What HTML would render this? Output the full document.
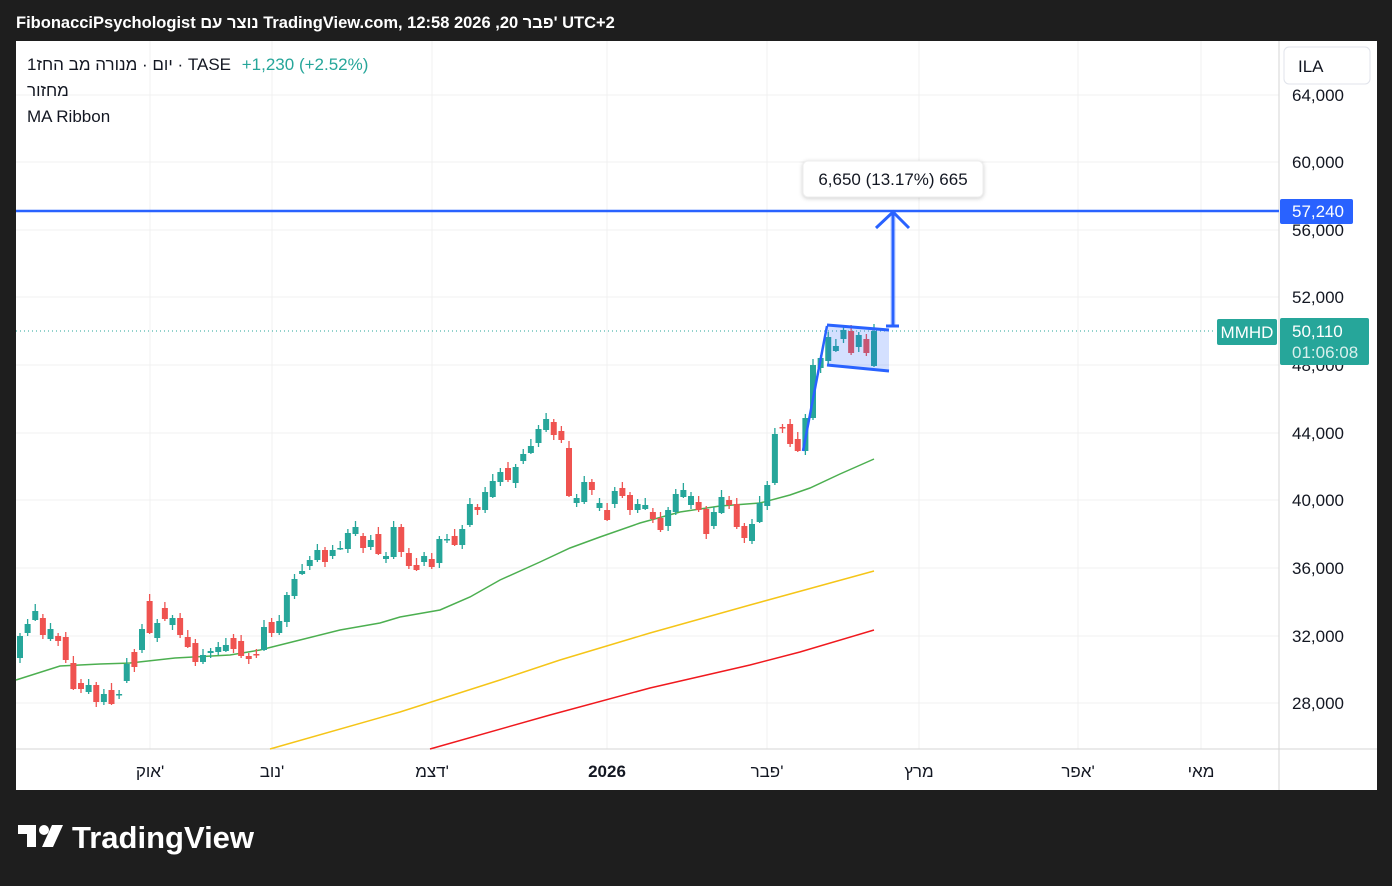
<!DOCTYPE html>
<html><head><meta charset="utf-8"><style>
body{margin:0;width:1392px;height:881px;background:#1e1e1e;overflow:hidden;font-family:"Liberation Sans","Noto Sans CJK SC",sans-serif}
svg text{font-family:"Liberation Sans","Noto Sans CJK SC",sans-serif}
</style></head><body>
<svg id="s" width="1392" height="881" xmlns="http://www.w3.org/2000/svg">
<rect width="1392" height="881" fill="#1e1e1e"/>
<text x="16" y="28" fill="#fff" font-size="16.5" font-weight="bold">FibonacciPsychologist נוצר עם TradingView.com, 12:58 2026 ,20 פבר' UTC+2</text>
<rect x="16" y="41" width="1361" height="749" fill="#fff"/>
<g stroke="#f0f0f0" stroke-width="1">
<line x1="16" x2="1279" y1="95" y2="95"/><line x1="16" x2="1279" y1="162" y2="162"/><line x1="16" x2="1279" y1="230" y2="230"/><line x1="16" x2="1279" y1="297" y2="297"/><line x1="16" x2="1279" y1="365" y2="365"/><line x1="16" x2="1279" y1="433" y2="433"/><line x1="16" x2="1279" y1="500" y2="500"/><line x1="16" x2="1279" y1="568" y2="568"/><line x1="16" x2="1279" y1="636" y2="636"/><line x1="16" x2="1279" y1="703" y2="703"/>
<line y1="41" y2="749" x1="150" x2="150"/><line y1="41" y2="749" x1="272" x2="272"/><line y1="41" y2="749" x1="432" x2="432"/><line y1="41" y2="749" x1="607" x2="607"/><line y1="41" y2="749" x1="767" x2="767"/><line y1="41" y2="749" x1="919" x2="919"/><line y1="41" y2="749" x1="1078" x2="1078"/><line y1="41" y2="749" x1="1201" x2="1201"/>
</g>
<line x1="1279" x2="1279" y1="41" y2="790" stroke="#d6d6d6"/>
<line x1="16" x2="1377" y1="749" y2="749" stroke="#d6d6d6"/>
<g font-size="17" fill="#131722">
<text x="1292" y="101">64,000</text><text x="1292" y="168">60,000</text><text x="1292" y="236">56,000</text><text x="1292" y="303">52,000</text><text x="1292" y="371">48,000</text><text x="1292" y="439">44,000</text><text x="1292" y="506">40,000</text><text x="1292" y="574">36,000</text><text x="1292" y="642">32,000</text><text x="1292" y="709">28,000</text>
<text x="150" y="777" text-anchor="middle">אוק'</text><text x="272" y="777" text-anchor="middle">נוב'</text><text x="432" y="777" text-anchor="middle">דצמ'</text><text x="607" y="777" text-anchor="middle" font-weight="bold">2026</text><text x="767" y="777" text-anchor="middle">פבר'</text><text x="919" y="777" text-anchor="middle">מרץ</text><text x="1078" y="777" text-anchor="middle">אפר'</text><text x="1201" y="777" text-anchor="middle">מאי</text>
</g>
<polyline fill="none" stroke="#4caf50" stroke-width="1.5" points="16,680 60,666 100,664 130,663 175,658 230,655 260,650 300,640 340,630 380,623 400,617 440,610 470,597 500,580 540,562 570,548 600,537 640,523 680,512 720,506 760,503 790,495 810,488 840,474 874,459"/>
<polyline fill="none" stroke="#f5c518" stroke-width="1.5" points="270,749 400,712 500,680 560,660 650,633 750,605 874,571"/>
<polyline fill="none" stroke="#f0191e" stroke-width="1.5" points="430,749 550,715 650,688 750,665 800,652 874,630"/>
<line x1="16" x2="1215" y1="331" y2="331" stroke="#26a69a" stroke-dasharray="1,3"/>
<g id="c"></g>
<polygon points="827,325 889,330 889,371 827,365" fill="rgba(41,98,255,0.2)"/>
<line x1="827" y1="325" x2="889" y2="330" stroke="#2962ff" stroke-width="3"/>
<line x1="827" y1="365" x2="889" y2="371" stroke="#2962ff" stroke-width="3"/>
<line x1="803" y1="451" x2="827" y2="326" stroke="#2962ff" stroke-width="2.5"/>
<line x1="16" x2="1279" y1="211" y2="211" stroke="#2962ff" stroke-width="2.5"/>
<rect x="890" y="212" width="6" height="113" fill="rgba(41,98,255,0.15)"/>
<line x1="893" x2="893" y1="213" y2="326" stroke="#2962ff" stroke-width="3"/>
<line x1="886" x2="899" y1="326" y2="326" stroke="#2962ff" stroke-width="3"/>
<polyline points="876,228 893,212 909,228" fill="none" stroke="#2962ff" stroke-width="3"/>
<rect x="803" y="161" width="180" height="36" rx="5" fill="#fff" stroke="#eee" style="filter:drop-shadow(0 1px 2px rgba(0,0,0,.2))"/>
<text x="893" y="185" text-anchor="middle" font-size="17" fill="#131722">6,650 (13.17%) 665</text>
<rect x="1280" y="199" width="73" height="25" rx="2" fill="#2962ff"/>
<text x="1292" y="217" font-size="17" fill="#fff">57,240</text>
<rect x="1217" y="319" width="60" height="26" rx="2" fill="#26a69a"/>
<text x="1247" y="338" font-size="17" fill="#fff" text-anchor="middle">MMHD</text>
<rect x="1280" y="318" width="89" height="47" rx="2" fill="#26a69a"/>
<text x="1292" y="337" font-size="17" fill="#fff">50,110</text>
<text x="1292" y="358" font-size="17" fill="#d9f0ed">01:06:08</text>
<rect x="1284" y="47" width="86" height="37" rx="5" fill="#fff" stroke="#e0e3eb"/>
<text x="1298" y="72" font-size="17" fill="#131722">ILA</text>
<text x="27" y="70" font-size="17" fill="#131722">1יום · מנורה מב החז · TASE <tspan fill="#26a69a" dx="6">+1,230 (+2.52%)</tspan></text>
<text x="27" y="96" font-size="17" fill="#131722">מחזור</text>
<text x="27" y="122" font-size="17" fill="#131722">MA Ribbon</text>
<g fill="#fff"><text x="72" y="848" font-size="31" font-weight="bold">TradingView</text>
<path d="M18 825h18v22h-9v-13h-9z"/><circle cx="44" cy="830" r="5"/><path d="M52 825h11l-10 22h-11z"/></g>
</svg>
<script>
var d=[[636,658,1],[624,633,1],[611,620,1],[618,635,0],[629,639,1],[636,641,0],[637,660,0],[663,689,0],[683,689,0],[685,692,1],[685,702,0],[694,702,1],[690,704,0],[694,695,1],[664,681,1],[652,667,0],[629,650,1],[601,633,0],[623,638,1],[608,619,0],[618,625,1],[618,635,0],[637,647,0],[643,662,0],[655,662,1],[651,653,1],[647,652,1],[645,651,1],[638,649,0],[641,656,0],[656,659,0],[654,655,0],[627,650,1],[622,633,0],[621,633,1],[595,622,1],[579,596,1],[571,574,1],[560,566,1],[550,560,1],[550,562,0],[550,556,1],[548,549,1],[533,549,1],[527,534,1],[536,548,0],[540,547,1],[534,554,0],[556,559,1],[527,557,1],[527,552,0],[553,566,0],[565,570,0],[556,562,1],[559,567,0],[539,563,1],[539,540,1],[536,545,0],[529,545,1],
[504,525,1],[507,510,0],[492,510,1],[481,497,1],[472,482,1],[468,480,0],[467,483,1],[454,461,1],[446,453,1],[429,443,1],[419,430,1],[422,435,0],[431,440,0],[448,496,0],[498,503,1],[482,502,1],[482,490,0],[503,508,1],[510,520,0],[491,504,1],[488,496,0],[495,510,0],[504,510,1],[505,509,1],[512,519,0],[518,530,0],[510,526,1],[494,512,1],[490,497,1],[496,505,1],[502,510,0],[509,534,0],[512,526,1],[497,513,1],[500,505,0],[504,527,0],[526,538,0],[524,541,1],[503,522,1],[485,506,1],[434,483,1],[427,428,0],[424,444,0],[439,451,0],[418,451,1],[365,418,1],[358,368,1],[337,361,1],[346,351,1],[330,339,1],[331,353,0],[335,347,1],[339,353,0],[331,366,1]];
var g=document.getElementById('c'),h='';
d.forEach(function(b,i){var x=20+i*7.625,c=b[2]?'#26a69a':'#ef5350',w=3+(i*7)%5;
h+='<line x1="'+x+'" x2="'+x+'" y1="'+(b[0]-w)+'" y2="'+(b[1]+(8-w))+'" stroke="'+c+'" stroke-width="1.3"/>';
h+='<rect x="'+(x-3)+'" y="'+b[0]+'" width="6" height="'+Math.max(1.5,b[1]-b[0])+'" fill="'+c+'"/>';});
g.innerHTML=h;
</script>
</body></html>
